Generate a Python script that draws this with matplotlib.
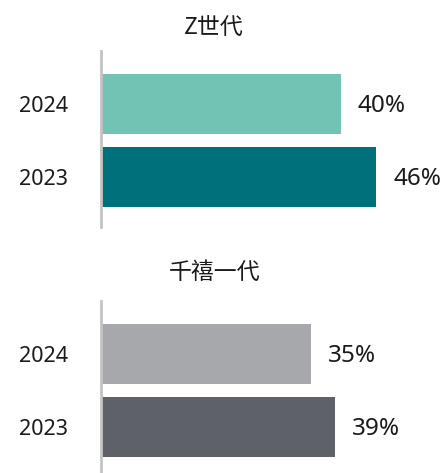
import matplotlib
matplotlib.use('Agg')
import matplotlib.pyplot as plt

plt.rcParams['font.family'] = ['Noto Sans', 'Noto Sans CJK SC', 'DejaVu Sans']

years = ['2023', '2024']
genz_vals = [46, 40]
mill_vals = [39, 35]
genz_colors = ['#00707A', '#72C3B4']
mill_colors = ['#5F6169', '#A6A8AB']
titles = ['Z世代', '千禧一代']

W, H = 443, 473
fig = plt.figure(figsize=(W / 100, H / 100), dpi=100)

def px_axes(x0, y_top, x1, y_bot):
    return fig.add_axes([x0 / W, (H - y_bot) / H, (x1 - x0) / W, (y_bot - y_top) / H])

panels = [
    (px_axes(101, 51, 443, 227), genz_vals, genz_colors, (-0.685, 1.726)),
    (px_axes(101, 301, 443, 473), mill_vals, mill_colors, (-0.63, 1.726)),
]

for ax, vals, cols, ylim in panels:
    ypos = list(range(len(years)))
    ax.barh(ypos, vals, height=0.822, color=cols, left=0.2)
    ax.set_xlim(0, 57.4)
    ax.set_ylim(*ylim)
    ax.set_yticks(ypos)
    ax.set_yticklabels(years, fontsize=15.5, color='#1a1a1a')
    ax.tick_params(axis='y', length=0, pad=24)
    ax.set_xticks([])
    for s in ['top', 'right', 'bottom']:
        ax.spines[s].set_visible(False)
    ax.spines['left'].set_color('#C4C4C4')
    ax.spines['left'].set_linewidth(2)
    for y, v in zip(ypos, vals):
        ax.annotate(f'{v}%', xy=(v + 0.2, y), xytext=(12.5, -1.5), textcoords='offset points',
                    ha='left', va='center', fontsize=17.5, color='#1a1a1a')

fig.text(214 / W, 1 - 27 / H, titles[0], ha='center', va='center', fontsize=16.5,
         color='#1a1a1a', family=['Noto Sans CJK SC', 'DejaVu Sans'], fontweight='light')
fig.text(215 / W, 1 - 272 / H, titles[1], ha='center', va='center', fontsize=16.5,
         color='#1a1a1a', family=['Noto Sans CJK SC', 'DejaVu Sans'], fontweight='light')

fig.savefig('out.png', dpi=100, facecolor='white')
